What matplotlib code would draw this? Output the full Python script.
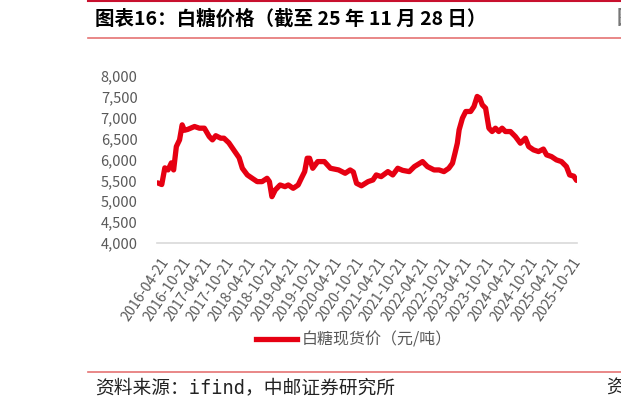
import matplotlib
matplotlib.use("Agg")
import matplotlib.pyplot as plt
import matplotlib.dates as mdates
from matplotlib.lines import Line2D
from matplotlib.ticker import FuncFormatter
import pandas as pd

plt.rcParams['font.family'] = ['Noto Sans CJK SC', 'DejaVu Sans']

# white sugar spot price (yuan/ton)
dates = [
    "2016-04-01", "2016-05-05", "2016-05-31", "2016-06-27", "2016-07-25", "2016-08-13",
    "2016-09-05", "2016-10-02", "2016-10-24", "2016-11-12", "2016-12-09", "2017-02-05",
    "2017-03-18", "2017-04-29", "2017-06-09", "2017-07-06", "2017-08-03", "2017-09-14",
    "2017-10-11", "2017-11-21", "2018-01-01", "2018-02-16", "2018-03-15", "2018-04-26",
    "2018-06-06", "2018-07-18", "2018-08-28", "2018-10-09", "2018-10-29", "2018-11-19",
    "2018-12-17", "2019-01-27", "2019-03-09", "2019-04-06", "2019-05-17", "2019-06-28",
    "2019-07-25", "2019-08-22", "2019-09-12", "2019-10-02", "2019-10-29", "2019-12-10",
    "2020-02-04", "2020-03-26", "2020-06-03", "2020-07-28", "2020-09-08", "2020-10-05",
    "2020-11-01", "2020-12-12", "2021-02-06", "2021-03-19", "2021-04-16", "2021-05-27",
    "2021-07-23", "2021-09-02", "2021-10-14", "2021-11-24", "2022-01-19", "2022-03-03",
    "2022-05-11", "2022-06-21", "2022-08-16", "2022-09-27", "2022-11-07", "2022-12-18",
    "2023-01-18", "2023-02-08", "2023-02-28", "2023-03-15", "2023-04-12", "2023-05-10",
    "2023-06-20", "2023-07-18", "2023-08-14", "2023-09-05", "2023-09-26", "2023-10-24",
    "2023-11-21", "2023-12-18", "2024-01-15", "2024-02-12", "2024-03-11", "2024-04-08",
    "2024-05-20", "2024-07-01", "2024-08-12", "2024-09-23", "2024-10-21", "2024-12-01",
    "2025-01-12", "2025-02-22", "2025-03-21", "2025-05-01", "2025-06-12", "2025-07-24",
    "2025-09-04", "2025-10-01", "2025-11-05", "2025-11-28",
]
prices = [
    5440, 5400, 5800, 5750, 5920, 5750,
    6310, 6470, 6830, 6700, 6720, 6790,
    6750, 6750, 6550, 6470, 6570, 6510,
    6510, 6400, 6230, 6040, 5790, 5630,
    5550, 5470, 5470, 5550, 5470, 5110,
    5270, 5390, 5350, 5390, 5310, 5390,
    5550, 5710, 6030, 6030, 5790, 5950,
    5950, 5790, 5750, 5670, 5750, 5700,
    5430, 5370, 5470, 5510, 5630, 5590,
    5710, 5630, 5790, 5740, 5710, 5830,
    5950, 5830, 5750, 5750, 5710, 5790,
    5910, 6150, 6390, 6710, 6990, 7150,
    7150, 7270, 7510, 7470, 7310, 7230,
    6750, 6670, 6750, 6670, 6750, 6670,
    6670, 6550, 6390, 6510, 6310, 6230,
    6190, 6250, 6110, 6070, 5990, 5950,
    5830, 5630, 5600, 5500,
]
tick_dates = [
    "2016-04-21", "2016-10-21", "2017-04-21", "2017-10-21", "2018-04-21",
    "2018-10-21", "2019-04-21", "2019-10-21", "2020-04-21", "2020-10-21",
    "2021-04-21", "2021-10-21", "2022-04-21", "2022-10-21", "2023-04-21",
    "2023-10-21", "2024-04-21", "2024-10-21", "2025-04-21", "2025-10-21",
]
yticks = [4000, 4500, 5000, 5500, 6000, 6500, 7000, 7500, 8000]

title = "图表16：白糖价格（截至 25 年 11 月 28 日）"
source = "资料来源：ifind，中邮证券研究所"
legend_label = "白糖现货价（元/吨）"

red = "#E60012"
grey = "#595959"

x = pd.to_datetime(dates)

fig = plt.figure(figsize=(6.21, 4.11), dpi=100)
ax = fig.add_axes([157 / 621, 1 - 243 / 411, (577 - 157) / 621, (243 - 76) / 411])

ax.plot(x, prices, color=red, linewidth=3.8, solid_capstyle="round", solid_joinstyle="round")

ax.set_ylim(4000, 8000)
ax.set_yticks(yticks)
ax.yaxis.set_major_formatter(FuncFormatter(lambda v, p: f"{int(v):,}"))
ax.set_xlim(x[0] - pd.Timedelta(days=6), x[-1] + pd.Timedelta(days=4))
ax.set_xticks(pd.to_datetime(tick_dates))
ax.xaxis.set_major_formatter(mdates.DateFormatter("%Y-%m-%d"))

for s in ["top", "right", "left"]:
    ax.spines[s].set_visible(False)
ax.spines["bottom"].set_color("#D9D9D9")
ax.spines["bottom"].set_linewidth(1.2)
ax.tick_params(axis="y", length=0, pad=14, labelsize=10.5, labelcolor=grey)
ax.tick_params(axis="x", length=0, pad=9, labelsize=10.2, labelcolor=grey)
for lbl in ax.get_xticklabels():
    lbl.set_rotation(56)
    lbl.set_ha("right")
    lbl.set_va("top")
    lbl.set_rotation_mode("anchor")

handle = Line2D([], [], color=red, linewidth=3.8)
fig.legend([handle], [legend_label], loc="center", bbox_to_anchor=(354 / 621, 1 - 340 / 411),
           frameon=False, fontsize=11.5, labelcolor=grey, handlelength=2.6, handletextpad=0.3)

# header / footer decorations
fig.add_artist(Line2D([88 / 621, 1], [1 - 0.8 / 411] * 2, color="#C8102E", linewidth=1.5))
fig.add_artist(Line2D([88 / 621, 1], [1 - 38.5 / 411] * 2, color="#E57373", linewidth=1.2))
fig.add_artist(Line2D([88 / 621, 1], [1 - 372 / 411] * 2, color="#E57373", linewidth=1.2))
fig.text(95 / 621, 1 - 19 / 411, title, fontsize=14, fontweight="bold", va="center", ha="left")
fig.text(617 / 621, 1 - 19 / 411, "图", fontsize=14, fontweight="bold", va="center", ha="left",
         color="#777777")
fig.text(95 / 621, 1 - 388 / 411, source, fontsize=13.5, va="center", ha="left", color="#222222",
         family=["DejaVu Sans Mono", "Noto Sans CJK SC"])
fig.text(606 / 621, 1 - 388 / 411, "资", fontsize=13.5, va="center", ha="left", color="#222222",
         family=["Noto Sans CJK SC"])

fig.savefig("out.png", dpi=100)
